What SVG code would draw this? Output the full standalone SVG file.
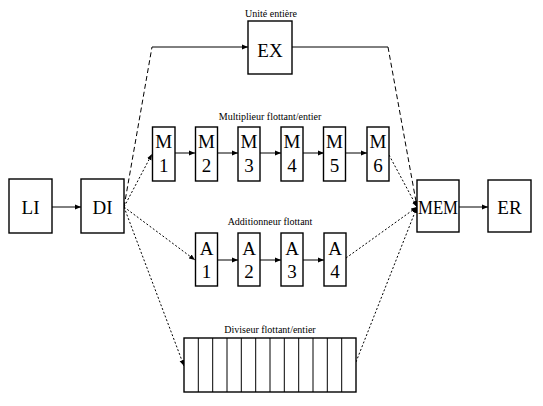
<svg xmlns="http://www.w3.org/2000/svg" width="543" height="406" viewBox="0 0 543 406">
<defs>
<marker id="ah" viewBox="0 0 10 10" refX="10" refY="5" markerWidth="6" markerHeight="6" orient="auto" markerUnits="userSpaceOnUse">
<path d="M0,1 L10,5 L0,9 z" fill="#000"/>
</marker>
<style>
.box{fill:#fff;stroke:#000;stroke-width:1.4}
.big{font-family:"Liberation Serif","Times New Roman",serif;font-size:19px;text-anchor:middle;fill:#000}
.lbl{font-family:"Liberation Serif","Times New Roman",serif;font-size:10px;text-anchor:middle;fill:#000}
.ln{fill:none;stroke:#000;stroke-width:1}
.solid{marker-end:url(#ah)}
.dot{stroke-dasharray:2,2}
.dash{stroke-dasharray:5,3}
.cell{stroke:#000;stroke-width:1}
</style>
</defs>
<rect width="543" height="406" fill="#fff"/>

<g id="connectors">
<line class="ln solid" x1="52" y1="207" x2="81" y2="207"/>
<line class="ln dot solid" x1="124" y1="207" x2="152" y2="154"/>
<line class="ln dot solid" x1="124" y1="207" x2="195" y2="260"/>
<line class="ln dot solid" x1="124" y1="207" x2="184" y2="366"/>
<line class="ln dash" x1="124" y1="207" x2="152" y2="47"/>
<line class="ln solid" x1="152" y1="47" x2="248" y2="47"/>
<line class="ln" x1="292" y1="47" x2="388" y2="47"/>
<line class="ln dash solid" x1="388" y1="47" x2="417" y2="207"/>
<line class="ln solid" x1="175" y1="153" x2="195" y2="153"/>
<line class="ln solid" x1="217" y1="153" x2="238" y2="153"/>
<line class="ln solid" x1="260" y1="153" x2="281" y2="153"/>
<line class="ln solid" x1="303" y1="153" x2="324" y2="153"/>
<line class="ln solid" x1="345" y1="153" x2="367" y2="153"/>
<line class="ln dot solid" x1="389" y1="155" x2="417" y2="207"/>
<line class="ln solid" x1="217" y1="260" x2="238" y2="260"/>
<line class="ln solid" x1="260" y1="260" x2="281" y2="260"/>
<line class="ln solid" x1="303" y1="260" x2="324" y2="260"/>
<line class="ln dot solid" x1="346" y1="258" x2="417" y2="207"/>
<line class="ln dot solid" x1="356" y1="362" x2="417" y2="207"/>
<line class="ln solid" x1="459" y1="207" x2="488" y2="207"/>
</g>

<g id="LI"><rect class="box" x="9" y="179" width="43" height="54"/><text class="big" x="30.5" y="214">LI</text></g>
<g id="DI"><rect class="box" x="81" y="179" width="43" height="54"/><text class="big" x="102.5" y="214">DI</text></g>

<g id="EX">
<text class="lbl" x="271" y="17">Unité entière</text>
<rect class="box" x="248" y="21" width="44" height="53"/><text class="big" x="270" y="57">EX</text>
</g>

<g id="mult-label"><text class="lbl" x="270" y="120">Multiplieur flottant/entier</text></g>
<g id="M1"><rect class="box" x="152.5" y="127" width="22.5" height="54"/><text class="big" x="163.75" y="148">M</text><text class="big" x="163.75" y="172">1</text></g>
<g id="M2"><rect class="box" x="195.5" y="127" width="22" height="54"/><text class="big" x="206.5" y="148">M</text><text class="big" x="206.5" y="172">2</text></g>
<g id="M3"><rect class="box" x="238" y="127" width="22" height="54"/><text class="big" x="249" y="148">M</text><text class="big" x="249" y="172">3</text></g>
<g id="M4"><rect class="box" x="281" y="127" width="22" height="54"/><text class="big" x="292" y="148">M</text><text class="big" x="292" y="172">4</text></g>
<g id="M5"><rect class="box" x="323.5" y="127" width="22" height="54"/><text class="big" x="334.5" y="148">M</text><text class="big" x="334.5" y="172">5</text></g>
<g id="M6"><rect class="box" x="367" y="127" width="22" height="54"/><text class="big" x="378" y="148">M</text><text class="big" x="378" y="172">6</text></g>

<g id="add-label"><text class="lbl" x="270" y="225">Additionneur flottant</text></g>
<g id="A1"><rect class="box" x="195.5" y="233" width="22" height="53"/><text class="big" x="206.5" y="255">A</text><text class="big" x="206.5" y="278">1</text></g>
<g id="A2"><rect class="box" x="238" y="233" width="22" height="53"/><text class="big" x="249" y="255">A</text><text class="big" x="249" y="278">2</text></g>
<g id="A3"><rect class="box" x="281" y="233" width="22" height="53"/><text class="big" x="292" y="255">A</text><text class="big" x="292" y="278">3</text></g>
<g id="A4"><rect class="box" x="324" y="233" width="22" height="53"/><text class="big" x="335" y="255">A</text><text class="big" x="335" y="278">4</text></g>

<g id="Div">
<text class="lbl" x="270" y="333">Diviseur flottant/entier</text>
<rect class="box" x="184" y="338" width="172" height="54"/>
<line class="cell" x1="198.3" y1="338" x2="198.3" y2="392"/>
<line class="cell" x1="212.7" y1="338" x2="212.7" y2="392"/>
<line class="cell" x1="227" y1="338" x2="227" y2="392"/>
<line class="cell" x1="241.3" y1="338" x2="241.3" y2="392"/>
<line class="cell" x1="255.7" y1="338" x2="255.7" y2="392"/>
<line class="cell" x1="270" y1="338" x2="270" y2="392"/>
<line class="cell" x1="284.3" y1="338" x2="284.3" y2="392"/>
<line class="cell" x1="298.7" y1="338" x2="298.7" y2="392"/>
<line class="cell" x1="313" y1="338" x2="313" y2="392"/>
<line class="cell" x1="327.3" y1="338" x2="327.3" y2="392"/>
<line class="cell" x1="341.7" y1="338" x2="341.7" y2="392"/>
</g>

<g id="MEM"><rect class="box" x="417" y="180" width="42" height="52"/><text class="big" x="438" y="214" textLength="40" lengthAdjust="spacingAndGlyphs">MEM</text></g>
<g id="ER"><rect class="box" x="488" y="180" width="43" height="52"/><text class="big" x="509.5" y="214">ER</text></g>
</svg>
